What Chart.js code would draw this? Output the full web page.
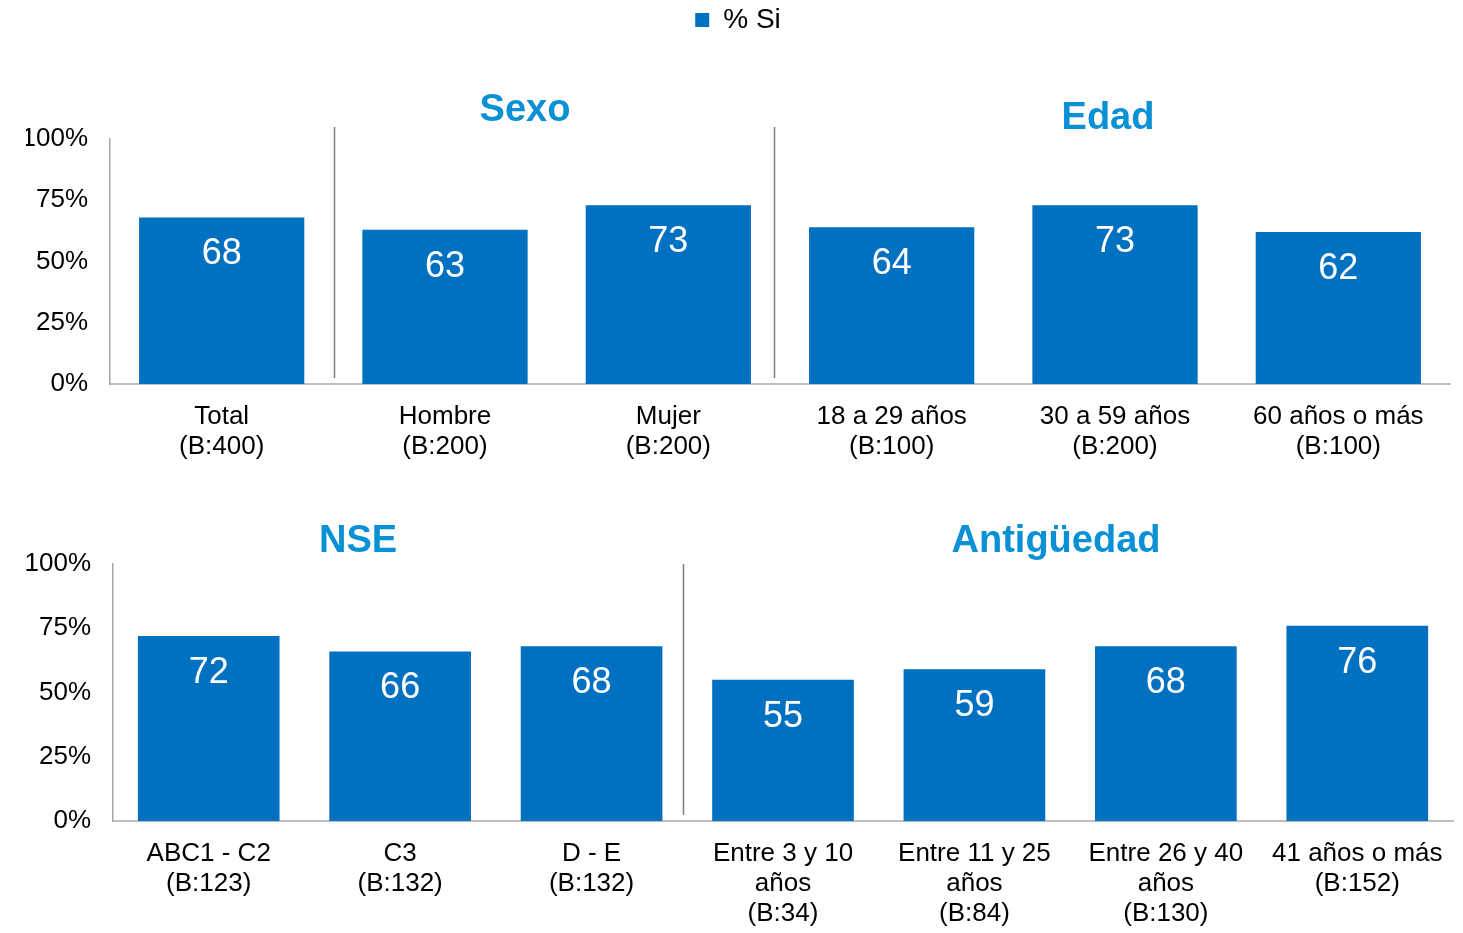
<!DOCTYPE html>
<html>
<head>
<meta charset="utf-8">
<script src="https://cdn.jsdelivr.net/npm/chart.js@4/dist/chart.umd.min.js"></script>
<style>
  body { margin: 0; background: #fff; }
  .box { position: absolute; left: 0; width: 1463px; }
  #top { top: 0; height: 470px; }
  #bottom { top: 470px; height: 463px; }
</style>
</head>
<body>
<div class="box" id="top"><canvas id="chartTop"></canvas></div>
<div class="box" id="bottom"><canvas id="chartBottom"></canvas></div>
<script>
// Datos del gráfico superior
const topLabels = [['Total', '(B:400)'], ['Hombre', '(B:200)'], ['Mujer', '(B:200)'],
  ['18 a 29 años', '(B:100)'], ['30 a 59 años', '(B:200)'], ['60 años o más', '(B:100)']];
const topValues = [68, 63, 73, 64, 73, 62];

// Datos del gráfico inferior
const bottomLabels = [['ABC1 - C2', '(B:123)'], ['C3', '(B:132)'], ['D - E', '(B:132)'],
  ['Entre 3 y 10', 'años', '(B:34)'], ['Entre 11 y 25', 'años', '(B:84)'],
  ['Entre 26 y 40', 'años', '(B:130)'], ['41 años o más', '(B:152)']];
const bottomValues = [72, 66, 68, 55, 59, 68, 76];

const yTicks = [0, 25, 50, 75, 100];
const seriesName = '% Si';

const blue = '#0070C0';
const titleBlue = '#0A90D4';
const font = 'Liberation Sans, Arial, sans-serif';

// Etiquetas de valor dentro de las barras
const valueLabels = {
  id: 'valueLabels',
  afterDatasetsDraw(chart) {
    const ctx = chart.ctx;
    ctx.save();
    ctx.fillStyle = '#fff';
    ctx.font = '36px ' + font;
    ctx.textAlign = 'center';
    ctx.textBaseline = 'middle';
    chart.getDatasetMeta(0).data.forEach((bar, i) => {
      ctx.fillText(chart.data.datasets[0].data[i], bar.x, bar.y + 37);
    });
    ctx.restore();
  }
};

// Líneas separadoras y títulos de grupo
const groups = {
  id: 'groups',
  afterDraw(chart, args, opts) {
    const ctx = chart.ctx;
    const x = chart.scales.x;
    const area = chart.chartArea;
    ctx.save();
    ctx.strokeStyle = '#7F7F7F';
    ctx.lineWidth = 1.5;
    opts.separators.forEach(s => {
      const px = Math.round((x.getPixelForValue(s.i - 1) + x.getPixelForValue(s.i)) / 2) + s.dx + 0.5;
      ctx.beginPath();
      ctx.moveTo(px, area.top + opts.sepTop);
      ctx.lineTo(px, area.bottom - 6);
      ctx.stroke();
    });
    ctx.fillStyle = titleBlue;
    ctx.font = 'bold 38px ' + font;
    ctx.textAlign = 'center';
    ctx.textBaseline = 'middle';
    opts.titles.forEach(t => ctx.fillText(t.text, t.x, t.y));
    ctx.restore();
  }
};

function makeChart(id, labels, values, cfg) {
  return new Chart(document.getElementById(id), {
    type: 'bar',
    data: {
      labels: labels,
      datasets: [{
        label: seriesName,
        data: values,
        backgroundColor: blue,
        categoryPercentage: 0.74,
        barPercentage: 1
      }]
    },
    options: {
      responsive: true,
      maintainAspectRatio: false,
      animation: false,
      layout: { padding: cfg.padding },
      scales: {
        x: {
          grid: { display: false, drawTicks: false },
          border: { color: '#BFBFBF', width: 2 },
          ticks: { color: '#000', font: { family: font, size: 26, lineHeight: 1.15 }, padding: 18, maxRotation: 0 },
          afterFit(scale) { scale.height = cfg.xHeight; }
        },
        y: {
          min: 0, max: 100,
          afterBuildTicks(scale) { scale.ticks = yTicks.map(v => ({ value: v })); },
          grid: { display: false, drawTicks: false },
          border: { color: '#A6A6A6', width: 1.5 },
          ticks: { color: '#000', font: { family: font, size: 26 }, padding: 22, callback: v => v + '%' },
          afterFit(scale) { scale.width = cfg.yWidth; }
        }
      },
      plugins: {
        legend: cfg.legend,
        title: cfg.spacer,
        tooltip: { enabled: false },
        groups: cfg.groups
      }
    },
    plugins: [valueLabels, groups]
  });
}

makeChart('chartTop', topLabels, topValues, {
  padding: { top: 1, right: 13, left: 26, bottom: 0 },
  xHeight: 86,
  yWidth: 84,
  legend: {
    display: true,
    position: 'top',
    labels: { color: '#000', font: { family: font, size: 28 }, boxWidth: 14, boxHeight: 14, padding: 5 }
  },
  // espacio vacío entre la leyenda y el área del gráfico
  spacer: { display: true, text: ' ', weight: 500, font: { size: 10 }, padding: { top: 0, bottom: 83 } },
  groups: {
    separators: [{ i: 1, dx: 1 }, { i: 3, dx: -6 }],
    sepTop: -12,
    titles: [{ text: 'Sexo', x: 525, y: 111 }, { text: 'Edad', x: 1108, y: 119 }]
  }
});

makeChart('chartBottom', bottomLabels, bottomValues, {
  padding: { top: 94, right: 10, left: 0, bottom: 0 },
  xHeight: 112,
  yWidth: 113,
  legend: { display: false },
  spacer: { display: false },
  groups: {
    separators: [{ i: 3, dx: -4 }],
    sepTop: 0,
    titles: [{ text: 'NSE', x: 358, y: 72 }, { text: 'Antigüedad', x: 1056, y: 72 }]
  }
});
</script>
</body>
</html>
